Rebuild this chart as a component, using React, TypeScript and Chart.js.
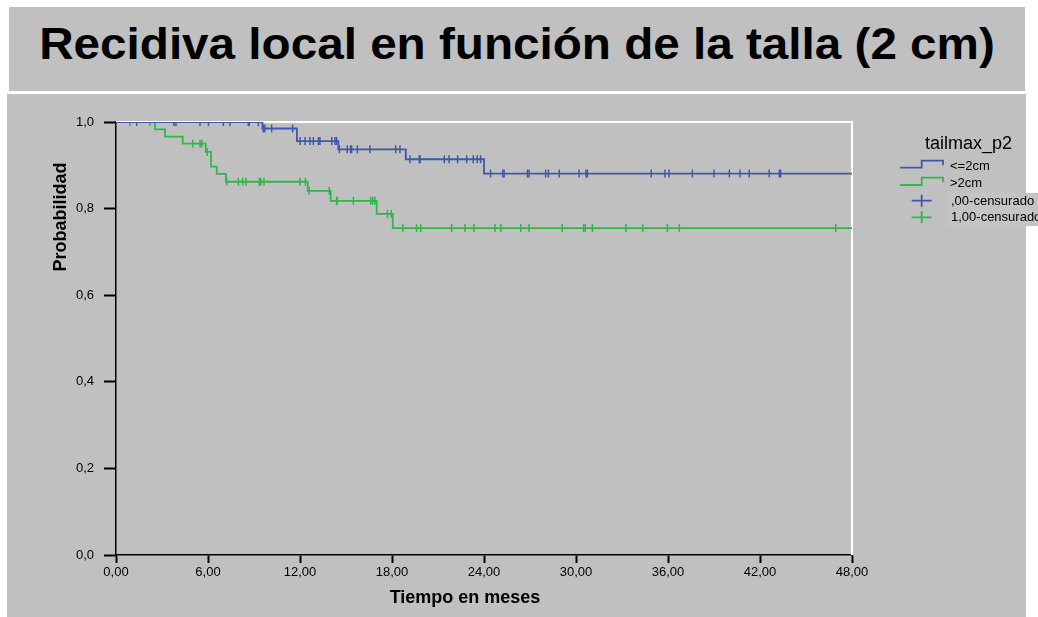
import React, { useEffect, useLayoutEffect, useRef, useState } from 'react';
import { Chart, registerables } from 'chart.js';

Chart.register(...registerables);

const FONT = '"Liberation Sans", Arial, Helvetica, sans-serif';

// ---- text ----
const titleText = 'Recidiva local en función de la talla (2 cm)';
const xAxisTitle = 'Tiempo en meses';
const yAxisTitle = 'Probabilidad';
const legendTitle = 'tailmax_p2';
const seriesLabels = ['<=2cm', '>2cm'];
const censorLabels = [',00-censurado', '1,00-censurado'];

// ---- ticks ----
const xTickValues = [0, 6, 12, 18, 24, 30, 36, 42, 48];
const xTickLabels = ['0,00', '6,00', '12,00', '18,00', '24,00', '30,00', '36,00', '42,00', '48,00'];
const yTickValues = [0, 0.2, 0.4, 0.6, 0.8, 1.0];
const yTickLabels = ['0,0', '0,2', '0,4', '0,6', '0,8', '1,0'];

// ---- series: <=2cm (blue) ----
const blueTimes = [0, 9.55, 11.8, 14.5, 18.9, 24.0, 48];
const blueSurv = [1, 0.985, 0.956, 0.937, 0.914, 0.881, 0.881];
const blueCensored = [
  1.35, 3.78, 3.91, 5.48, 6.03, 7.0, 7.43, 8.63, 8.69, 9.28,
  9.6, 9.71, 10.15, 11.52,
  12.0, 12.33, 12.65, 12.87, 13.2, 13.3, 14.07, 14.28, 14.39,
  14.57, 15.08, 15.3, 15.37, 15.74, 16.56, 18.24, 18.52,
  19.17, 19.78, 19.83, 21.41, 21.72, 22.28, 22.87, 23.3, 23.56, 23.78,
  24.43, 25.22, 25.31, 26.83, 26.94, 28.02, 28.2, 28.91, 30.2, 30.65, 30.74,
  34.9, 35.8, 36.07, 37.59, 39.0, 40.0, 40.7, 41.3, 42.6, 43.26, 43.35,
];

// ---- series: >2cm (green) ----
const greenTimes = [0, 2.54, 3.2, 4.35, 5.85, 6.2, 6.57, 7.17, 12.5, 14.0, 17.0, 18.05, 48];
const greenSurv = [1, 0.983, 0.966, 0.95, 0.931, 0.897, 0.88, 0.862, 0.841, 0.818, 0.788, 0.755, 0.755];
const greenCensored = [
  0.91, 2.22,
  5.0, 5.48, 5.59, 5.95,
  7.22, 7.98, 8.26, 8.48, 9.35, 9.44, 9.65, 12.0, 12.35,
  12.6, 13.91,
  14.39, 14.43, 15.48, 16.61, 16.74, 16.89,
  17.7, 17.95,
  18.7, 19.6, 19.87, 21.89, 22.76, 23.35, 24.72, 25.1, 26.4, 26.94, 29.1,
  30.5, 30.6, 31.07, 33.26, 34.35, 35.96, 36.74, 46.94,
];

const BLUE = '#3e58ac';
const GREEN = '#2eb848';
const BG = '#c0c0c0';

function survAt(times: number[], surv: number[], t: number) {
  let v = surv[0];
  for (let i = 0; i < times.length; i++) {
    if (times[i] <= t) v = surv[i];
  }
  return v;
}

const stepPoints = (times: number[], surv: number[]) => times.map((t, i) => ({ x: t, y: surv[i] }));
const censorPoints = (c: number[], times: number[], surv: number[]) =>
  c.map((t) => ({ x: t, y: survAt(times, surv, t) }));

const decorPlugin = {
  id: 'decor',
  beforeDraw(chart: any) {
    const ctx = chart.ctx;
    ctx.save();
    ctx.fillStyle = BG;
    ctx.fillRect(0, 0, 1019, 523);
    ctx.restore();
  },
  beforeDatasetsDraw(chart: any) {
    const { ctx, chartArea: a } = chart;
    ctx.save();
    ctx.strokeStyle = '#ffffff';
    ctx.lineWidth = 2;
    ctx.beginPath();
    ctx.moveTo(a.left, a.top);
    ctx.lineTo(a.right, a.top);
    ctx.lineTo(a.right, a.bottom);
    ctx.stroke();
    ctx.restore();
  },
  afterDraw(chart: any) {
    const ctx = chart.ctx;
    ctx.save();
    // axis titles
    ctx.fillStyle = '#000';
    ctx.font = `bold 18px ${FONT}`;
    ctx.textAlign = 'center';
    ctx.textBaseline = 'alphabetic';
    ctx.fillText(xAxisTitle, 458, 508.7);
    ctx.save();
    ctx.translate(59, 123);
    ctx.rotate(-Math.PI / 2);
    ctx.fillText(yAxisTitle, 0, 0);
    ctx.restore();

    // legend
    ctx.fillStyle = '#c4c4c4';
    ctx.fillRect(941, 99, 90, 33);
    ctx.fillStyle = BG;
    ctx.fillStyle = '#000';
    ctx.textAlign = 'left';
    ctx.font = `18px ${FONT}`;
    ctx.fillText(legendTitle, 918, 55.3);

    const step = (color: string, low: number, high: number) => {
      ctx.strokeStyle = color;
      ctx.lineWidth = 1.8;
      ctx.beginPath();
      ctx.moveTo(893, low);
      ctx.lineTo(914.7, low);
      ctx.lineTo(914.7, high);
      ctx.lineTo(936, high);
      ctx.lineTo(936, high + 4.5);
      ctx.stroke();
    };
    const plus = (color: string, cx: number, cy: number) => {
      ctx.strokeStyle = color;
      ctx.lineWidth = 1.8;
      ctx.beginPath();
      ctx.moveTo(cx - 10, cy);
      ctx.lineTo(cx + 10, cy);
      ctx.moveTo(cx, cy - 6);
      ctx.lineTo(cx, cy + 6);
      ctx.stroke();
    };
    step(BLUE, 73.7, 66.7);
    step(GREEN, 91, 83.7);
    plus(BLUE, 914.7, 106.7);
    plus(GREEN, 914.7, 123.3);

    ctx.fillStyle = '#000';
    ctx.font = `13px ${FONT}`;
    ctx.fillText(seriesLabels[0], 943, 75.5);
    ctx.fillText(seriesLabels[1], 943, 92.7);
    ctx.fillText(censorLabels[0], 944, 110.5);
    ctx.fillText(censorLabels[1], 944, 126.5);
    ctx.restore();
  },
};

function ChartCanvas() {
  const ref = useRef<HTMLCanvasElement>(null);
  useEffect(() => {
    if (!ref.current) return;
    const chart = new Chart(ref.current, {
      type: 'line',
      data: {
        datasets: [
          {
            label: seriesLabels[0],
            data: stepPoints(blueTimes, blueSurv),
            borderColor: BLUE,
            borderWidth: 1.8,
            stepped: 'before',
            pointRadius: 0,
            fill: false,
          },
          {
            label: seriesLabels[1],
            data: stepPoints(greenTimes, greenSurv),
            borderColor: GREEN,
            borderWidth: 1.8,
            stepped: 'before',
            pointRadius: 0,
            fill: false,
          },
          {
            label: censorLabels[0],
            data: censorPoints(blueCensored, blueTimes, blueSurv),
            showLine: false,
            pointStyle: 'line',
            rotation: 90,
            pointRadius: 4,
            borderColor: BLUE,
            backgroundColor: BLUE,
            pointBorderWidth: 1.5,
          },
          {
            label: censorLabels[1],
            data: censorPoints(greenCensored, greenTimes, greenSurv),
            showLine: false,
            pointStyle: 'line',
            rotation: 90,
            pointRadius: 4,
            borderColor: GREEN,
            backgroundColor: GREEN,
            pointBorderWidth: 1.5,
          },
        ] as any,
      },
      options: {
        animation: false,
        responsive: false,
        devicePixelRatio: 1,
        layout: { padding: { left: 0, top: 28, right: 186, bottom: 0 } },
        plugins: {
          legend: { display: false },
          title: { display: false },
          tooltip: { enabled: false },
        },
        scales: {
          x: {
            type: 'linear',
            min: 0,
            max: 48,
            afterFit: (s: any) => {
              s.height = 62;
            },
            afterBuildTicks: (s: any) => {
              s.ticks = xTickValues.map((v) => ({ value: v }));
            },
            ticks: {
              autoSkip: false,
              maxRotation: 0,
              padding: 2,
              color: '#000',
              font: { family: FONT, size: 13 },
              callback: (_v: any, i: number) => xTickLabels[i],
            },
            grid: {
              drawOnChartArea: false,
              drawTicks: true,
              tickLength: 8,
              tickWidth: 2,
              tickColor: '#000',
            },
            border: { display: true, color: '#000', width: 1.5 },
          },
          y: {
            type: 'linear',
            min: 0,
            max: 1,
            afterFit: (s: any) => {
              s.width = 109;
            },
            afterBuildTicks: (s: any) => {
              s.ticks = yTickValues.map((v) => ({ value: v }));
            },
            ticks: {
              autoSkip: false,
              padding: 10,
              color: '#000',
              font: { family: FONT, size: 13 },
              callback: (_v: any, i: number) => yTickLabels[i],
            },
            grid: {
              drawOnChartArea: false,
              drawTicks: true,
              tickLength: 12,
              tickWidth: 2,
              tickColor: '#000',
            },
            border: { display: true, color: '#000', width: 1.5 },
          },
        },
      } as any,
      plugins: [decorPlugin],
    });
    return () => chart.destroy();
  }, []);
  return (
    <canvas
      ref={ref}
      width={1031}
      height={523}
      style={{ position: 'absolute', left: 0, top: 0, width: 1031, height: 523 }}
    />
  );
}

function Title() {
  const ref = useRef<HTMLSpanElement>(null);
  const [scale, setScale] = useState(1);
  useLayoutEffect(() => {
    const measure = () => {
      if (ref.current) {
        const w = ref.current.offsetWidth;
        if (w > 0) setScale(956 / w);
      }
    };
    measure();
    if ((document as any).fonts && (document as any).fonts.ready) {
      (document as any).fonts.ready.then(measure);
    }
  }, []);
  return (
    <div
      style={{
        position: 'absolute',
        left: 9,
        top: 7,
        width: 1016,
        height: 84,
        background: BG,
      }}
    >
      <span
        ref={ref}
        style={{
          position: 'absolute',
          left: '50%',
          top: 15,
          whiteSpace: 'nowrap',
          fontFamily: FONT,
          fontWeight: 'bold',
          fontSize: 44,
          lineHeight: '44px',
          color: '#000',
          transform: `translateX(-50%) scaleX(${scale})`,
          transformOrigin: 'center',
        }}
      >
        {titleText}
      </span>
    </div>
  );
}

export default function App() {
  return (
    <div
      style={{
        position: 'absolute',
        left: 0,
        top: 0,
        width: 1038,
        height: 617,
        background: '#ffffff',
        overflow: 'hidden',
      }}
    >
      <Title />
      <div style={{ position: 'absolute', left: 7, top: 94, width: 1031, height: 523 }}>
        <ChartCanvas />
      </div>
    </div>
  );
}
